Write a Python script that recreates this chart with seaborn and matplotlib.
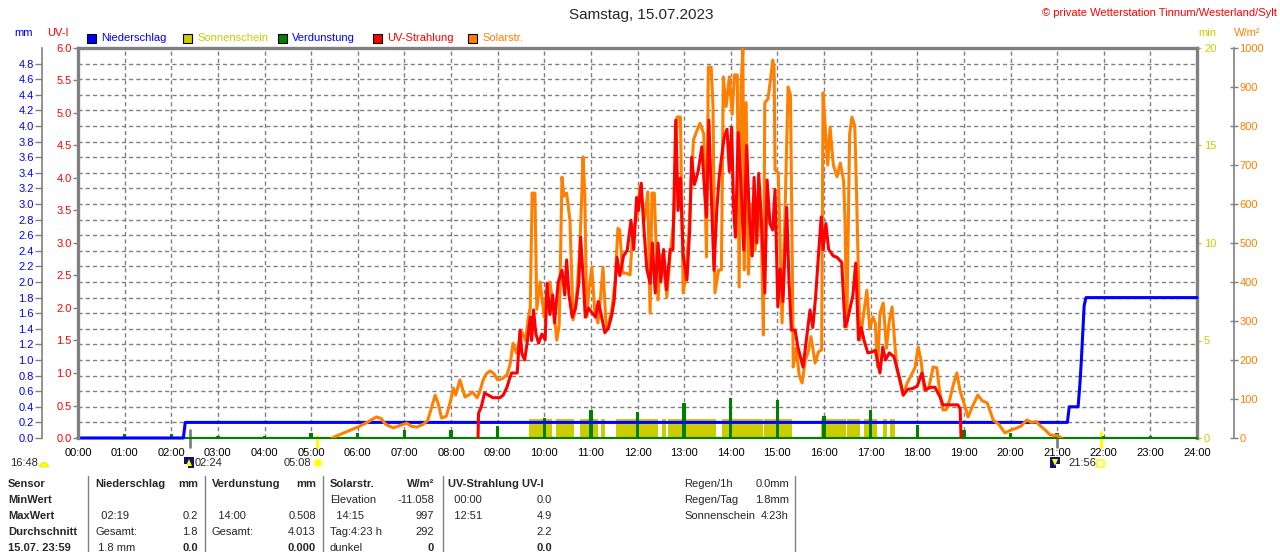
import numpy as np
import matplotlib
matplotlib.use("Agg")
import matplotlib.pyplot as plt
from matplotlib.patches import Rectangle, Circle, Wedge, Polygon
from matplotlib.lines import Line2D
from matplotlib.ticker import FormatStrFormatter
import seaborn as sns

BLUE = "#0000ff"
RED = "#ff0000"
ORANGE = "#ff8000"
YELLOW = "#cccc00"
GREEN = "#008000"
GRAY = "#808080"
NAVY = "#101070"

hour_labels = [f"{h:02d}:00" for h in range(25)]

# Solarstrahlung W/m2 (hours as decimal), one line per hour
solar_h = [5.45, 5.6, 5.8,
           6.0, 6.2, 6.4, 6.5, 6.6, 6.76, 6.9,
           7.05, 7.15, 7.27, 7.4, 7.5, 7.6, 7.66, 7.72, 7.8, 7.9,
           8.0, 8.05, 8.1, 8.19, 8.3, 8.4, 8.46, 8.56, 8.62, 8.69, 8.76, 8.84, 8.92,
           9.0, 9.1, 9.2, 9.27, 9.33, 9.4, 9.52, 9.6, 9.65, 9.7, 9.74, 9.8, 9.84, 9.91,
           10.0, 10.05, 10.12, 10.2, 10.27, 10.32, 10.34, 10.38, 10.42, 10.48, 10.55, 10.62, 10.68, 10.76, 10.81, 10.83, 10.87, 10.91, 10.96,
           11.02, 11.08, 11.15, 11.2, 11.26, 11.32, 11.35, 11.45, 11.52, 11.58, 11.62, 11.68, 11.75, 11.84, 11.9, 11.99,
           12.05, 12.1, 12.15, 12.22, 12.27, 12.31, 12.36, 12.44, 12.5, 12.58, 12.63, 12.7, 12.78, 12.85, 12.92, 12.98,
           13.04, 13.1, 13.2, 13.28, 13.34, 13.42, 13.48, 13.52, 13.58, 13.62, 13.66, 13.74, 13.8, 13.84, 13.9, 13.97,
           14.03, 14.08, 14.14, 14.18, 14.22, 14.26, 14.29, 14.33, 14.38, 14.45, 14.52, 14.6, 14.66, 14.7, 14.73, 14.8, 14.86, 14.9, 14.93, 14.95,
           15.02, 15.1, 15.16, 15.23, 15.28, 15.32, 15.34, 15.4, 15.47, 15.53, 15.6, 15.66, 15.72, 15.81, 15.88, 15.95, 15.98,
           16.03, 16.08, 16.13, 16.2, 16.28, 16.35, 16.42, 16.45, 16.49, 16.55, 16.6, 16.66, 16.7, 16.77, 16.83, 16.92, 16.98,
           17.05, 17.1, 17.15, 17.2, 17.27, 17.34, 17.4, 17.46, 17.52, 17.56, 17.62, 17.7, 17.78, 17.85, 17.95,
           18.02, 18.08, 18.15, 18.25, 18.34, 18.42, 18.48, 18.55, 18.62, 18.7, 18.78, 18.85, 18.92,
           19.0, 19.09, 19.18, 19.3, 19.4, 19.5, 19.63, 19.75, 19.88,
           20.0, 20.1, 20.22, 20.35, 20.45, 20.55, 20.65, 20.75, 20.85,
           21.0, 21.1]
solar_wm2 = [0, 8, 18,
             28, 40, 54, 50, 35, 26, 32,
             38, 30, 28, 35, 45, 85, 110, 90, 51, 56,
             100, 128, 110, 149, 105, 112, 118, 103, 120, 149, 165, 172, 165,
             149, 152, 162, 190, 243, 218, 272, 250, 300, 336, 628, 628, 330, 400,
             310, 375, 400, 330, 251, 290, 400, 669, 620, 628, 560, 303, 340, 480, 640, 721, 628, 310, 380,
             438, 330, 295, 350, 438, 300, 277, 330, 400, 538, 533, 423, 423, 418, 533, 567,
             644, 600, 560, 631, 320, 628, 628, 354, 470, 420, 362, 470, 560, 823, 823, 372,
             420, 526, 764, 790, 807, 780, 464, 951, 951, 850, 372, 431, 431, 926, 850, 926,
             830, 931, 931, 387, 900, 997, 431, 860, 420, 600, 480, 620, 500, 264, 859, 870, 926, 969, 950, 687,
             680, 295, 560, 900, 880, 450, 182, 230, 160, 141, 200, 220, 260, 192, 221, 226, 885,
             790, 700, 797, 700, 670, 705, 660, 560, 285, 780, 823, 800, 620, 251, 300, 379, 280,
             310, 295, 182, 320, 346, 230, 300, 336, 240, 182, 150, 110, 140, 156, 180,
             233, 200, 123, 130, 182, 180, 120, 72, 72, 100, 140, 167, 120,
             90, 54, 80, 110, 95, 90, 46, 35, 13,
             20, 24, 30, 46, 40, 42, 30, 20, 8,
             6, 0]

# UV-Strahlung UV-Index
uv_h = [8.58, 8.59, 8.65, 8.72, 8.8, 8.9,
        9.05, 9.12, 9.2, 9.25, 9.3, 9.42, 9.48, 9.52, 9.58, 9.64, 9.7, 9.73, 9.77, 9.82, 9.88, 9.95,
        10.02, 10.06, 10.12, 10.18, 10.22, 10.3, 10.38, 10.44, 10.48, 10.53, 10.6, 10.67, 10.74, 10.78, 10.84, 10.88, 10.95,
        11.02, 11.1, 11.16, 11.22, 11.3, 11.38, 11.45, 11.5, 11.56, 11.62, 11.7, 11.78, 11.86, 11.92, 11.98,
        12.02, 12.08, 12.14, 12.2, 12.27, 12.32, 12.38, 12.44, 12.5, 12.56, 12.62, 12.7, 12.76, 12.82, 12.87, 12.92, 12.98,
        13.06, 13.12, 13.16, 13.22, 13.3, 13.38, 13.44, 13.48, 13.53, 13.58, 13.64, 13.7, 13.75, 13.8, 13.86, 13.92, 13.97,
        14.02, 14.06, 14.1, 14.16, 14.22, 14.28, 14.34, 14.4, 14.46, 14.5, 14.56, 14.6, 14.66, 14.73, 14.78, 14.84, 14.9, 14.95,
        15.01, 15.06, 15.12, 15.2, 15.25, 15.3, 15.38, 15.44, 15.55, 15.62, 15.7, 15.76, 15.82, 15.88, 15.94, 15.98,
        16.04, 16.1, 16.2, 16.28, 16.38, 16.45, 16.5, 16.56, 16.62, 16.68, 16.74, 16.8, 16.86, 16.94,
        17.02, 17.1, 17.2, 17.26, 17.32, 17.4, 17.5, 17.63, 17.7, 17.8, 17.9,
        18.0, 18.1, 18.18, 18.28, 18.38, 18.49, 18.55, 18.7, 18.87, 18.92, 18.94]
uv_index = [0, 0.38, 0.48, 0.69, 0.66, 0.62,
            0.62, 0.66, 0.78, 0.9, 1.0, 1.0, 1.66, 1.3, 1.2, 1.5, 1.86, 1.5, 1.97, 1.6, 1.46, 1.6,
            1.51, 2.38, 1.9, 2.2, 1.77, 2.4, 2.58, 2.2, 2.74, 2.2, 1.86, 2.0, 2.38, 3.09, 2.4, 1.86, 2.0,
            1.93, 1.86, 2.1, 1.9, 1.62, 1.7, 1.9, 2.12, 2.78, 2.5, 2.8, 2.89, 3.35, 2.9, 3.7,
            3.5, 3.92, 3.2, 2.6, 2.38, 3.0, 2.23, 3.0, 2.4, 2.9, 2.28, 2.9, 2.9, 4.89, 3.5, 4.0, 2.8,
            2.43, 3.2, 4.32, 3.9, 4.1, 4.48, 3.8, 3.4, 4.89, 3.8, 2.58, 3.5, 4.0, 4.3, 4.63, 4.75, 4.1,
            4.78, 3.55, 3.09, 4.7, 3.9, 2.89, 4.5, 3.4, 2.8, 4.01, 3.0, 4.07, 3.3, 2.23, 3.97, 3.3, 3.2, 3.82,
            2.02, 2.6, 2.1, 3.55, 2.4, 1.66, 1.66, 1.4, 1.09, 1.5, 1.97, 1.7, 2.17, 2.8, 3.4, 2.9,
            3.3, 2.9, 2.8, 2.78, 2.7, 1.71, 1.8, 2.0, 2.2, 2.69, 1.51, 1.7, 1.5, 1.31,
            1.32, 1.35, 1.0, 1.4, 1.2, 1.31, 1.25, 0.89, 0.66, 0.75, 0.76,
            0.8, 1.0, 0.74, 0.78, 0.78, 0.63, 0.51, 0.51, 0.51, 0.45, 0]

# Niederschlag (Tagessumme, mm)
rain_h = [0, 2.26, 2.30, 21.22, 21.26, 21.45, 21.49, 21.52, 21.55, 21.58, 21.62, 24]
rain_mm = [0, 0, 0.2, 0.2, 0.4, 0.4, 0.7, 1.0, 1.35, 1.7, 1.8, 1.8]

# Verdunstung je Stunde (mm)
evap_h = list(range(1, 24))
evap_mm = [0.05, 0.05, 0.03, 0.03, 0.06, 0.06, 0.10, 0.10, 0.15, 0.26, 0.36, 0.33,
           0.45, 0.508, 0.49, 0.28, 0.36, 0.17, 0.10, 0.06, 0.06, 0.03, 0.03]

# Sonnenschein (min)
sun_start = [9.68, 10.25, 10.77, 11.22, 11.54, 12.52, 12.65, 13.81, 14.71, 15.94, 16.49, 16.86, 17.27, 17.42]
sun_end = [10.17, 10.64, 11.15, 11.30, 12.44, 12.61, 13.68, 14.69, 15.31, 16.47, 16.77, 17.14, 17.35, 17.52]
sun_min = [1.0, 1.0, 1.0, 1.0, 1.0, 1.0, 1.0, 1.0, 1.0, 1.0, 1.0, 1.0, 1.0, 1.0]

moonrise_h = 2 + 24 / 60
sunrise_h = 5 + 8 / 60
moonset_h = 21.0
sunset_h = 21 + 56 / 60

assert len(solar_h) == len(solar_wm2)
assert len(uv_h) == len(uv_index)

sns.set_style("white")
plt.rcParams["font.family"] = ["Liberation Sans", "DejaVu Sans"]
plt.rcParams["font.size"] = 8

W, H = 1280, 552
fig = plt.figure(figsize=(W / 100, H / 100), dpi=100)


def ftext(x, y, s, **kw):
    # x, y in pixels from the top left corner
    kw.setdefault("fontsize", 8)
    kw.setdefault("va", "center")
    fig.text(x / W, 1 - y / H, s, **kw)


def inch(x, y):
    return (x / 100, (H - y) / 100)


def add_px(patch):
    patch.set_transform(fig.dpi_scale_trans)
    fig.add_artist(patch)


L, R, T, B = 78, 1197, 48, 438
host = fig.add_axes([L / W, 1 - B / H, (R - L) / W, (B - T) / H])
ax_mm = host.twinx()
ax_w = host.twinx()
ax_uv = host.twinx()

for z, ax in enumerate([host, ax_mm, ax_w, ax_uv], start=1):
    ax.set_zorder(z)
    for s in ax.spines.values():
        s.set_visible(False)
host.patch.set_visible(True)
host.patch.set_facecolor("white")

for side in ["top", "right"]:
    host.spines[side].set_visible(True)
    host.spines[side].set_color(GRAY)
    host.spines[side].set_linewidth(2.4)
host.spines["bottom"].set_visible(True)
host.spines["bottom"].set_color(GRAY)
host.spines["bottom"].set_linewidth(1.5)
ax_uv.spines["left"].set_visible(True)
ax_uv.spines["left"].set_color(GRAY)
ax_uv.spines["left"].set_linewidth(2.4)
ax_mm.spines["left"].set_visible(True)
ax_mm.spines["left"].set_color(GRAY)
ax_mm.spines["left"].set_linewidth(1.2)
ax_mm.spines["left"].set_position(("axes", -36 / (R - L)))
ax_w.spines["right"].set_visible(True)
ax_w.spines["right"].set_color(GRAY)
ax_w.spines["right"].set_linewidth(1.2)
ax_w.spines["right"].set_position(("axes", 1 + 37 / (R - L)))

# data
host.bar(sun_start, sun_min, width=np.subtract(sun_end, sun_start), align="edge",
         color=YELLOW, linewidth=0, zorder=2)
ax_mm.axhline(0, color=GREEN, lw=1.5, clip_on=False, zorder=2)
ax_mm.bar(evap_h, evap_mm, width=0.07, color=GREEN, linewidth=0, zorder=3)
sns.lineplot(x=rain_h, y=rain_mm, ax=ax_mm, color=BLUE, linewidth=2.2,
             estimator=None, sort=False, zorder=4, clip_on=False)
sns.lineplot(x=solar_h, y=solar_wm2, ax=ax_w, color=ORANGE, linewidth=2.2,
             estimator=None, sort=False)
sns.lineplot(x=uv_h, y=uv_index, ax=ax_uv, color=RED, linewidth=2.2,
             estimator=None, sort=False)

for ax in [host, ax_mm, ax_w, ax_uv]:
    ax.set_xlabel("")
    ax.set_ylabel("")

# scales
host.set_xlim(0, 24)
host.set_xticks(range(25))
host.set_xticklabels(hour_labels)
host.tick_params(axis="x", length=0, pad=7, labelsize=8, labelcolor="black")

host.yaxis.tick_right()
host.set_ylim(0, 20)
host.set_yticks([0, 5, 10, 15, 20])
host.set_yticks(np.arange(0, 20.01, 0.8), minor=True)
host.tick_params(axis="y", which="major", colors=YELLOW, length=3, width=1, pad=2, labelsize=8)
host.tick_params(axis="y", which="minor", length=0)
host.grid(False)
host.yaxis.grid(True, which="minor", color=GRAY, ls=(0, (3, 2.2)), lw=1)
host.xaxis.grid(True, which="major", color=GRAY, ls=(0, (3, 2.2)), lw=1)

ax_mm.yaxis.tick_left()
ax_mm.set_ylim(0, 5.0)
ax_mm.set_yticks(np.arange(0, 4.81, 0.2))
ax_mm.yaxis.set_major_formatter(FormatStrFormatter("%.1f"))
ax_mm.tick_params(axis="y", colors=GRAY, labelcolor=BLUE, length=5, width=1, pad=1, labelsize=8)

ax_uv.yaxis.tick_left()
ax_uv.set_ylim(0, 6)
ax_uv.set_yticks(np.arange(0, 6.01, 0.5))
ax_uv.yaxis.set_major_formatter(FormatStrFormatter("%.1f"))
ax_uv.tick_params(axis="y", colors=GRAY, labelcolor=RED, length=3.6, width=1, pad=1, labelsize=8)

ax_w.yaxis.tick_right()
ax_w.set_ylim(0, 1000)
ax_w.set_yticks(np.arange(0, 1001, 100))
ax_w.tick_params(axis="y", colors=GRAY, labelcolor=ORANGE, direction="inout", length=6,
                 width=1, pad=1, labelsize=8)

# sun and moon marks on the time axis
trans = host.get_xaxis_transform()
host.plot([moonrise_h] * 2, [-0.022, 0.02], transform=trans, color=GRAY, lw=2, clip_on=False, zorder=5)
host.plot([moonset_h] * 2, [-0.022, 0.01], transform=trans, color=GRAY, lw=2, clip_on=False, zorder=5)
host.plot([sunrise_h] * 2, [-0.022, 0.005], transform=trans, color="#ffff00", lw=2.2, clip_on=False, zorder=5)
host.plot([sunset_h] * 2, [-0.022, 0.015], transform=trans, color="#ffff00", lw=2.2, clip_on=False, zorder=5)

# header texts
ftext(641, 15, "Samstag, 15.07.2023", ha="center", fontsize=11)
ftext(1277, 13, "\u00a9 private Wetterstation Tinnum/Westerland/Sylt", ha="right", color=RED)
ftext(14, 33, "mm", color=BLUE)
ftext(47, 33, "UV-I", color=RED)
ftext(1198, 33, "min", color=YELLOW)
ftext(1234, 33, "W/m\u00b2", color=ORANGE)

legend_items = [(87, "Niederschlag", BLUE, BLUE), (183, "Sonnenschein", YELLOW, YELLOW),
                (278, "Verdunstung", GREEN, BLUE), (373, "UV-Strahlung", RED, RED),
                (468, "Solarstr.", ORANGE, ORANGE)]
for x0, name, box, txt in legend_items:
    add_px(Rectangle(inch(x0, 43), 0.09, 0.09, facecolor=box, edgecolor="black", lw=0.8))
    ftext(x0 + 14, 38, name, color=txt)

# icons and times under the axis
ftext(10, 463, "16:48")
add_px(Wedge(inch(44, 467), 0.045, 0, 180, facecolor="#ffff00", edgecolor="#e0e000", lw=0.5))
add_px(Rectangle(inch(184, 468), 0.10, 0.11, facecolor=NAVY, lw=0))
add_px(Rectangle(inch(184, 468), 0.04, 0.04, facecolor="white", lw=0))
add_px(Polygon([inch(186, 466), inch(192, 466), inch(189, 459)], closed=True, facecolor="#ffff00", lw=0))
ftext(195, 463, "02:24")
ftext(284, 463, "05:08")
add_px(Circle(inch(318, 463), 0.055, facecolor="#ffffc0", lw=0))
add_px(Circle(inch(318, 463), 0.035, facecolor="#ffff00", lw=0))
add_px(Rectangle(inch(1050, 468), 0.10, 0.11, facecolor=NAVY, lw=0))
add_px(Rectangle(inch(1056, 468), 0.04, 0.04, facecolor="white", lw=0))
add_px(Polygon([inch(1052, 459), inch(1058, 459), inch(1055, 466)], closed=True, facecolor="#ffff00", lw=0))
ftext(1068, 463, "21:56")
add_px(Rectangle(inch(1097, 467), 0.07, 0.07, facecolor="white", edgecolor="#ffff00", lw=1.2))

# table below the chart
rows_y = [484, 500, 516, 532, 548]
row_names = ["Sensor", "MinWert", "MaxWert", "Durchschnitt", "15.07. 23:59"]
for y, name in zip(rows_y, row_names):
    ftext(8, y, name, fontweight="bold")

for x in [88, 205, 323, 443, 795]:
    fig.add_artist(Line2D([x / W, x / W], [1 - 476 / H, 0], color=GRAY, lw=1))

# (left x, left texts, right x, right texts, bold in last row)
table_cols = [
    (95, ["Niederschlag", "", "  02:19", "Gesamt:", " 1.8 mm"], 198, ["mm", "", "0.2", "1.8", "0.0"]),
    (212, ["Verdunstung", "", "  14:00", "Gesamt:", ""], 316, ["mm", "", "0.508", "4.013", "0.000"]),
    (330, ["Solarstr.", "Elevation", "  14:15", "Tag:4:23 h", "dunkel"], 434, ["W/m\u00b2", "-11.058", "997", "292", "0"]),
    (448, ["UV-Strahlung UV-I", "  00:00", "  12:51", "", ""], 552, ["", "0.0", "4.9", "2.2", "0.0"]),
]
for xl, left, xr, right in table_cols:
    for i, (y, lt, rt) in enumerate(zip(rows_y, left, right)):
        bold_l = "bold" if i == 0 else "normal"
        bold_r = "bold" if i in (0, 4) else "normal"
        if lt:
            ftext(xl, y, lt, fontweight=bold_l)
        if rt:
            ftext(xr, y, rt, ha="right", fontweight=bold_r)

summary = [("Regen/1h", "0.0mm"), ("Regen/Tag", "1.8mm"), ("Sonnenschein", "4:23h")]
for y, (k, v) in zip(rows_y, summary):
    ftext(684, y, k)
    ftext(789, y, v, ha="right")

fig.savefig("out.png", dpi=100)
